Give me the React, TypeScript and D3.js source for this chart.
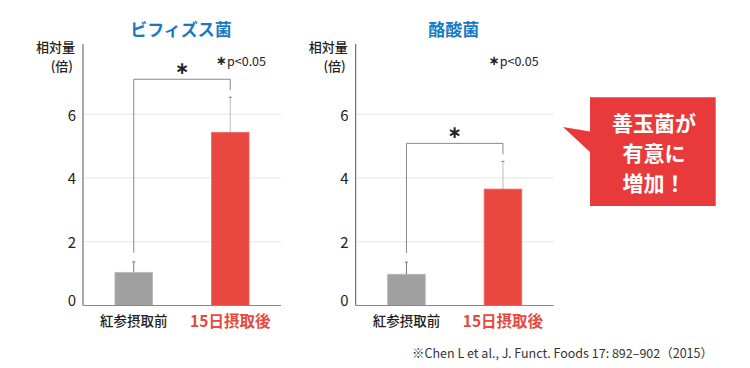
import React from "react";
import * as d3 from "d3";

const categories = ["紅参摂取前", "15日摂取後"];
const panelTitles = ["ビフィズス菌", "酪酸菌"];
const bifidoValues = [1.04, 5.43];
const bifidoErrors = [0.33, 1.1];
const butyrateValues = [0.98, 3.65];
const butyrateErrors = [0.38, 0.87];
const yTicks = [0, 2, 4, 6];
const calloutLines = ["善玉菌が", "有意に", "増加！"];
const citation = "※Chen L et al., J. Funct. Foods 17: 892–902（2015）";

const FONT = "'Noto Sans CJK JP', 'Noto Sans', sans-serif";
const BLUE = "#1a78c2";
const RED = "#e84840";
const GRAY = "#a0a0a0";

const width = 198;
const top = 44;
const bottom = 305.5;

interface PanelProps {
  x: number;
  title: string;
  values: number[];
  errors: number[];
}

const Panel: React.FC<PanelProps> = ({ x, title, values, errors }) => {
  const yScale = d3.scaleLinear().domain([0, 8.2]).range([bottom, top]);
  const xScale = d3
    .scaleBand<string>()
    .domain(categories)
    .range([0, width])
    .paddingInner(0.61)
    .paddingOuter(0.331);
  const bw = xScale.bandwidth();
  const cx = (c: string) => (xScale(c) as number) + bw / 2;

  const errTops = values.map((v, i) => yScale(v + errors[i]));
  const bracketY = Math.min(...errTops) - 18;

  return (
    <g transform={`translate(${x},0)`}>
      <text
        x={width / 2 - 1}
        y={28}
        textAnchor="middle"
        dominantBaseline="central"
        fontSize={17}
        fontWeight="bold"
        fill={BLUE}
      >
        {title}
      </text>
      <text x={-8} y={46} textAnchor="end" dominantBaseline="central" fontSize={13} fontWeight={500} fill="#222">
        相対量
      </text>
      <text x={-10} y={65.5} textAnchor="end" dominantBaseline="central" fontSize={13} fontWeight={500} fill="#222">
        (倍)
      </text>
      <text x={183} y={60} textAnchor="end" dominantBaseline="central" fontSize={12.5} fill="#222">
        <tspan fontFamily="DejaVu Sans" fontWeight="bold" fontSize={13}>∗</tspan>p&lt;0.05
      </text>

      {yTicks.map((t) => (
        <g key={t}>
          {t > 0 && (
            <line x1={0} x2={width} y1={yScale(t)} y2={yScale(t)} stroke="#e6e6e6" />
          )}
          <text
            x={-7}
            y={yScale(t) - (t === 0 ? 6 : 0)}
            textAnchor="end"
            dominantBaseline="central"
            fontSize={15}
            fill="#222"
          >
            {t}
          </text>
        </g>
      ))}

      {categories.map((c, i) => (
        <g key={c}>
          <line
            x1={cx(c)}
            x2={cx(c)}
            y1={yScale(values[i])}
            y2={errTops[i]}
            stroke={i === 0 ? "#777" : "#bbb"}
          />
          <line x1={cx(c) - 1.5} x2={cx(c) + 1.5} y1={errTops[i]} y2={errTops[i]} stroke="#777" />
          <rect
            x={xScale(c)}
            y={yScale(values[i])}
            width={bw}
            height={bottom - yScale(values[i])}
            fill={i === 0 ? GRAY : RED}
            stroke={i === 0 ? "#b8b8b8" : "#f06a62"}
            strokeWidth={0.8}
          />
          <text
            x={cx(c)}
            y={320}
            textAnchor="middle"
            dominantBaseline="central"
            fontSize={i === 0 ? 13.5 : 15.5}
            fontWeight={i === 0 ? 500 : "bold"}
            fill={i === 0 ? "#222" : RED}
          >
            {c}
          </text>
        </g>
      ))}

      <path
        d={`M${cx(categories[0])},${errTops[0] - 9}V${bracketY}H${cx(categories[1])}V${errTops[1] - 7}`}
        fill="none"
        stroke="#888"
      />
      <text
        x={(cx(categories[0]) + cx(categories[1])) / 2}
        y={bracketY - 11}
        textAnchor="middle"
        dominantBaseline="central"
        fontSize={17}
        fontWeight="bold"
        fontFamily="DejaVu Sans"
        fill="#222"
      >
        ∗
      </text>

      <line x1={0} x2={0} y1={top} y2={bottom} stroke="#555" />
      <line x1={0} x2={width} y1={bottom} y2={bottom} stroke="#888" />
    </g>
  );
};

const App: React.FC = () => {
  return (
    <svg
      width={750}
      height={368}
      style={{ position: "absolute", left: 0, top: 0, background: "#fff" }}
      fontFamily={FONT}
    >
      <Panel x={83} title={panelTitles[0]} values={bifidoValues} errors={bifidoErrors} />
      <Panel x={355.7} title={panelTitles[1]} values={butyrateValues} errors={butyrateErrors} />

      <path d="M563,127L590,131.5V152V97.3H715.7V206H590V152Z" fill="#e83a3a" />
      {calloutLines.map((l, i) => (
        <text
          key={l}
          x={654}
          y={122 + i * 30}
          textAnchor="middle"
          dominantBaseline="central"
          fontSize={21}
          fontWeight="bold"
          fill="#fff"
        >
          {l}
        </text>
      ))}

      <text x={713} y={352} textAnchor="end" dominantBaseline="central" fontSize={12.5} fill="#333">
        {citation}
      </text>
    </svg>
  );
};

export default App;
